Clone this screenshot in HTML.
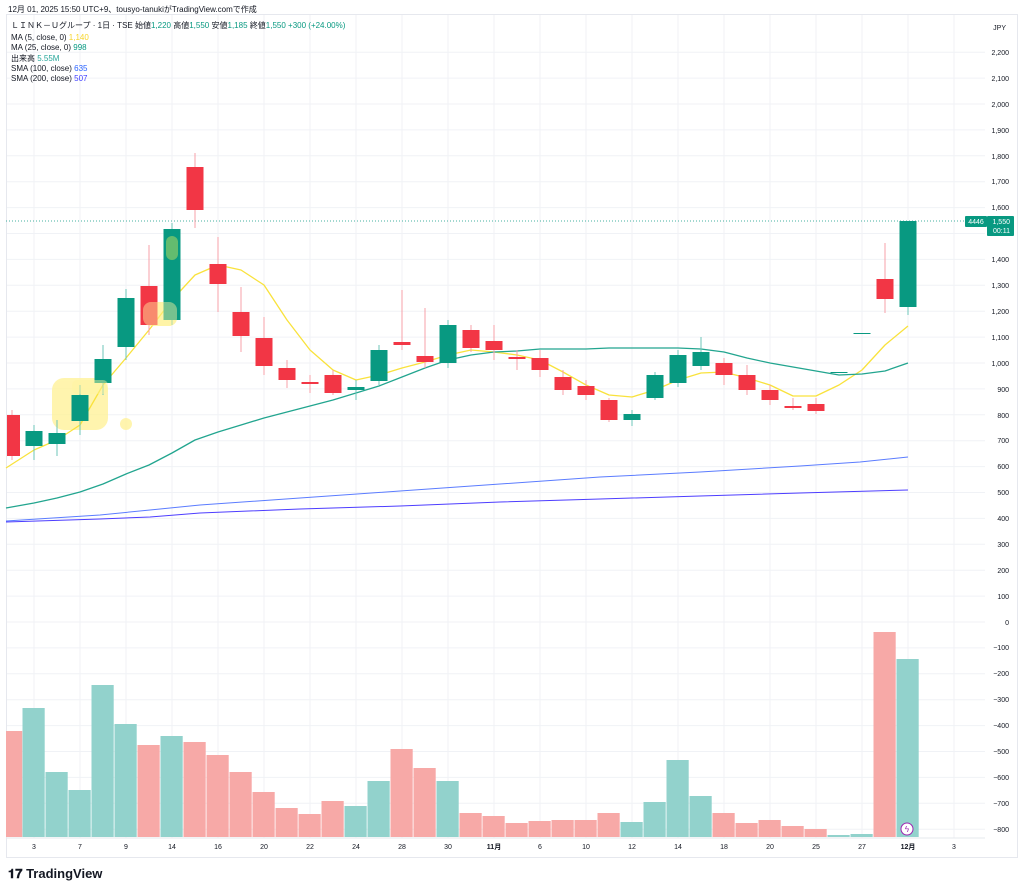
<!DOCTYPE html>
<html><head><meta charset="utf-8"><style>
body{margin:0;background:#fff;width:1024px;height:891px;overflow:hidden;font-family:"Liberation Sans","Noto Sans CJK JP",sans-serif}
svg text{font-family:"Liberation Sans","Noto Sans CJK JP",sans-serif}
</style></head><body>
<svg id="s" width="1024" height="891" viewBox="0 0 1024 891" xmlns="http://www.w3.org/2000/svg">
<rect x="0" y="0" width="1024" height="891" fill="#fff"/>
<g id="grid"></g>
<rect x="6.5" y="14.5" width="1011" height="843" fill="none" stroke="#e6e8ee"/>
<line x1="6" y1="221" x2="985" y2="221" stroke="#089981" stroke-dasharray="1,2" stroke-width="0.8"/>
<g id="vol"></g>
<g id="hl" fill="#fff3a0" opacity="0.85">
<rect x="52" y="378" width="56" height="52" rx="12"/>
<circle cx="126" cy="424" r="6"/>
<rect x="143" y="302" width="34" height="24" rx="8"/>
</g>
<g id="lines"></g>
<g id="candles"></g>
<g fill="#fff3a0" opacity="0.45"><rect x="143" y="302" width="34" height="24" rx="8"/><rect x="72" y="380" width="36" height="14" rx="5"/></g>
<g id="hl2" fill="#7cc46a" opacity="0.8"><rect x="166" y="236" width="12" height="24" rx="6"/></g>
<text x="8" y="12" font-size="8" fill="#131722">12月 01, 2025 15:50 UTC+9、tousyo-tanukiがTradingView.comで作成</text>
<g font-size="8" fill="#131722">
<text x="11" y="28">ＬＩＮＫ－Ｕグループ · 1日 · TSE  始値<tspan fill="#089981">1,220</tspan> 高値<tspan fill="#089981">1,550</tspan> 安値<tspan fill="#089981">1,185</tspan> 終値<tspan fill="#089981">1,550</tspan> <tspan fill="#089981">+300 (+24.00%)</tspan></text>
<text x="11" y="40">MA (5, close, 0) <tspan fill="#f7d52a">1,140</tspan></text>
<text x="11" y="50">MA (25, close, 0) <tspan fill="#089981">998</tspan></text>
<text x="11" y="61">出来高 <tspan fill="#26a69a">5.55M</tspan></text>
<text x="11" y="71">SMA (100, close) <tspan fill="#2962ff">635</tspan></text>
<text x="11" y="81">SMA (200, close) <tspan fill="#3f3fff">507</tspan></text>
</g>
<g font-size="7" fill="#131722" text-anchor="end">
<text x="1006" y="30">JPY</text>
<text x="1009" y="55">2,200</text><text x="1009" y="81">2,100</text><text x="1009" y="107">2,000</text><text x="1009" y="133">1,900</text><text x="1009" y="159">1,800</text><text x="1009" y="184">1,700</text><text x="1009" y="210">1,600</text><text x="1009" y="262">1,400</text><text x="1009" y="288">1,300</text><text x="1009" y="314">1,200</text><text x="1009" y="340">1,100</text><text x="1009" y="366">1,000</text><text x="1009" y="392">900</text><text x="1009" y="418">800</text><text x="1009" y="443">700</text><text x="1009" y="469">600</text><text x="1009" y="495">500</text><text x="1009" y="521">400</text><text x="1009" y="547">300</text><text x="1009" y="573">200</text><text x="1009" y="599">100</text><text x="1009" y="625">0</text><text x="1009" y="650">−100</text><text x="1009" y="676">−200</text><text x="1009" y="702">−300</text><text x="1009" y="728">−400</text><text x="1009" y="754">−500</text><text x="1009" y="780">−600</text><text x="1009" y="806">−700</text><text x="1009" y="832">−800</text>
</g>
<rect x="965" y="216" width="22" height="11" rx="1" fill="#089981"/>
<text x="976" y="224" font-size="7" fill="#fff" text-anchor="middle">4446</text>
<rect x="987" y="216" width="27" height="20" rx="1" fill="#089981"/>
<text x="1010" y="224" font-size="7" fill="#fff" text-anchor="end">1,550</text>
<text x="1010" y="233" font-size="7" fill="#fff" text-anchor="end">00:11</text>
<g font-size="7" fill="#131722" text-anchor="middle">
<text x="34" y="849">3</text><text x="80" y="849">7</text><text x="126" y="849">9</text><text x="172" y="849">14</text><text x="218" y="849">16</text><text x="264" y="849">20</text><text x="310" y="849">22</text><text x="356" y="849">24</text><text x="402" y="849">28</text><text x="448" y="849">30</text><text x="494" y="849" font-weight="bold">11月</text><text x="540" y="849">6</text><text x="586" y="849">10</text><text x="632" y="849">12</text><text x="678" y="849">14</text><text x="724" y="849">18</text><text x="770" y="849">20</text><text x="816" y="849">25</text><text x="862" y="849">27</text><text x="908" y="849" font-weight="bold">12月</text><text x="954" y="849">3</text>
</g>
<circle cx="907" cy="829" r="6" fill="#fff" stroke="#9c27b0" stroke-width="1"/>
<text x="907" y="832" font-size="8" fill="#9c27b0" text-anchor="middle">ϟ</text>
<text x="8" y="878" font-size="13" font-weight="bold" fill="#131722">𝟏𝟕 <tspan>TradingView</tspan></text>
</svg>
<script>
const NS="http://www.w3.org/2000/svg";
function el(p,t,a){const e=document.createElementNS(NS,t);for(const k in a)e.setAttribute(k,a[k]);document.getElementById(p).appendChild(e);return e;}
for(let v=2200;v>=-800;v-=100){const y=622-v*0.259;el("grid","line",{x1:6,x2:985,y1:y,y2:y,stroke:"#f0f2f6","stroke-width":1});}
for(let i=0;i<21;i++){const x=34+46*i;el("grid","line",{x1:x,x2:x,y1:14,y2:838,stroke:"#f0f2f6","stroke-width":1});}
el("grid","line",{x1:6,x2:985,y1:838,y2:838,stroke:"#e6e8ee"});
const C=[[12,415,456,410,460,0],[34,431,446,425,460,1],[57,433,444,420,456,1],[80,395,421,385,435,1],[103,359,383,345,395,1],[126,298,347,289,360,1],[149,286,325,245,335,0],[172,229,320,223,325,1],[195,167,210,153,228,0],[218,264,284,237,312,0],[241,312,336,287,352,0],[264,338,366,317,375,0],[287,368,380,360,388,0],[310,382,384,375,393,0],[333,375,393,370,395,0],[356,387,390,380,400,1],[379,350,381,345,385,1],[402,342,345,290,350,0],[425,356,362,308,368,0],[448,325,363,320,368,1],[471,330,348,325,352,0],[494,341,350,325,360,0],[517,357,359,350,370,0],[540,358,370,350,377,0],[563,377,390,370,395,0],[586,386,395,380,400,0],[609,400,420,398,422,0],[632,414,420,410,426,1],[655,375,398,372,400,1],[678,355,383,350,387,1],[701,352,366,337,370,1],[724,363,375,358,385,0],[747,375,390,365,395,0],[770,390,400,385,405,0],[793,406,408,398,410,0],[816,404,411,398,414,0],[839,372,373,372,373,1],[862,333,334,333,334,1],[885,279,299,243,313,0],[908,221,307,221,315,1]];
C.forEach(c=>{const g=c[5];el("candles","line",{x1:c[0],x2:c[0],y1:c[3],y2:c[4],stroke:g?"#6cc5b8":"#f7a0a8","stroke-width":1});
const w=c[0]==12?13:17;el("candles","rect",{x:c[0]==12?7:c[0]-8.5,y:c[1],width:w,height:Math.max(1,c[2]-c[1]),fill:g?"#089981":"#f23645"});});
const V=[[12,731,0],[34,708,1],[57,772,1],[80,790,1],[103,685,1],[126,724,1],[149,745,0],[172,736,1],[195,742,0],[218,755,0],[241,772,0],[264,792,0],[287,808,0],[310,814,0],[333,801,0],[356,806,1],[379,781,1],[402,749,0],[425,768,0],[448,781,1],[471,813,0],[494,816,0],[517,823,0],[540,821,0],[563,820,0],[586,820,0],[609,813,0],[632,822,1],[655,802,1],[678,760,1],[701,796,1],[724,813,0],[747,823,0],[770,820,0],[793,826,0],[816,829,0],[839,835,1],[862,834,1],[885,632,0],[908,659,1]];
V.forEach(v=>{const x=v[0]==12?6:v[0]-11.5;const w=v[0]==12?17:23;el("vol","rect",{x:x,y:v[1],width:w-0.8,height:837-v[1],fill:v[2]?"#92d2cc":"#f7a9a7"});});
function pl(pts,col,w){el("lines","polyline",{points:pts.map(p=>p.join(",")).join(" "),fill:"none",stroke:col,"stroke-width":w,"stroke-linejoin":"round"});}
pl([[6,468],[34,450],[57,440],[80,425],[103,385],[126,358],[149,330],[172,300],[195,275],[218,265],[241,270],[264,285],[287,320],[310,350],[333,370],[356,380],[379,375],[402,368],[425,362],[448,355],[471,350],[494,352],[517,355],[540,360],[563,372],[586,385],[609,395],[632,397],[655,390],[678,380],[701,373],[724,372],[747,378],[770,385],[793,396],[816,396],[839,385],[862,370],[885,345],[908,326]],"#f9e23c",1.3);
pl([[6,508],[34,503],[57,498],[80,492],[103,484],[126,474],[149,465],[172,453],[195,440],[218,432],[241,425],[264,418],[287,412],[310,406],[333,400],[356,393],[379,386],[402,377],[425,368],[448,360],[471,355],[494,352],[517,351],[540,349],[563,349],[586,349],[609,348],[632,348],[655,348],[678,348],[701,349],[724,352],[747,358],[770,363],[793,367],[816,371],[839,375],[862,374],[885,371],[908,363]],"#22a58f",1.3);
pl([[6,521],[100,515],[150,510],[200,505],[300,498],[400,491],[500,484],[600,477],[700,472],[800,466],[860,462],[908,457]],"#5b7cff",1);
pl([[6,522],[100,519],[150,517],[200,513],[300,509],[400,506],[500,502],[600,499],[700,496],[800,493],[908,490]],"#4d3dff",1);
</script>
</body></html>
